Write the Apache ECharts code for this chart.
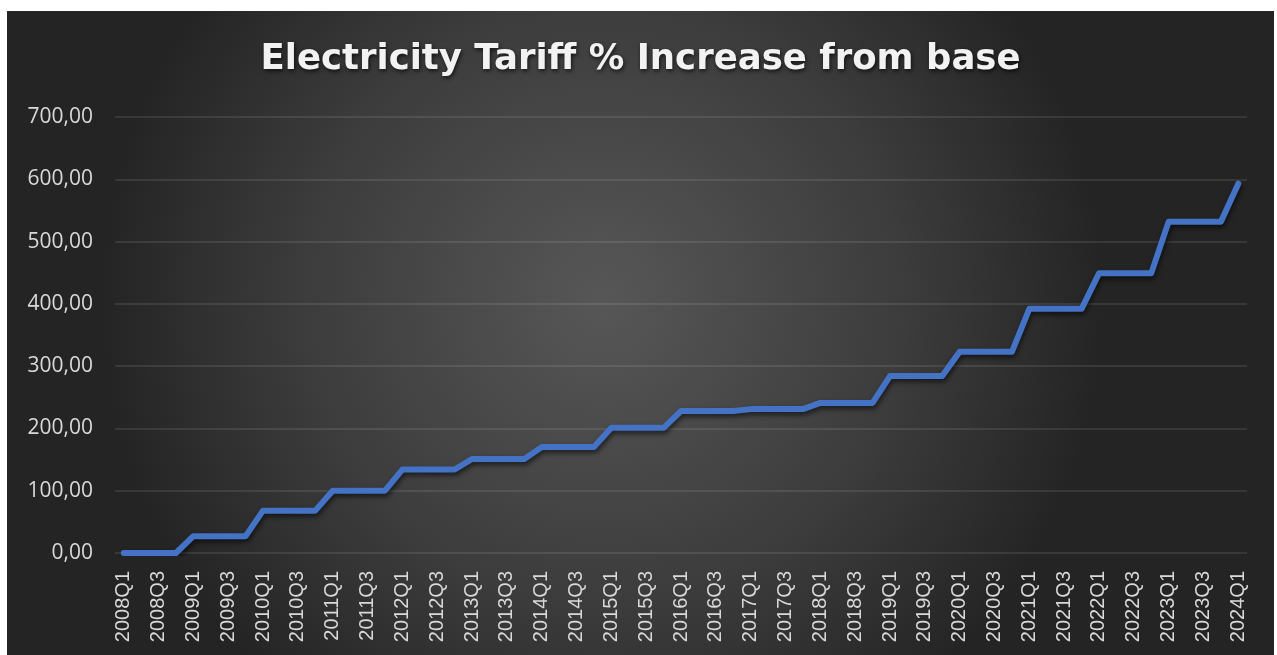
<!DOCTYPE html>
<html>
<head>
<meta charset="utf-8">
<script src="https://cdn.jsdelivr.net/npm/echarts@6/dist/echarts.min.js"></script>
<style>
  html, body { margin: 0; padding: 0; background: #ffffff; }
  #chart { position: absolute; left: 7px; top: 11px; width: 1267px; height: 644px; }
</style>
</head>
<body>
<div id="chart"></div>
<script>
// Quarterly labels, 2008Q1 .. 2024Q1
const years = [2008, 2009, 2010, 2011, 2012, 2013, 2014, 2015, 2016, 2017, 2018, 2019, 2020, 2021, 2022, 2023];
const quarters = ['Q1', 'Q2', 'Q3', 'Q4'];
const categories = [];
years.forEach(y => quarters.forEach(q => categories.push(y + q)));
categories.push('2024Q1');

// Cumulative tariff increase (%) relative to 2008Q1
const tariffIncrease = [
  0, 0, 0, 0,
  27, 27, 27, 27,
  68, 68, 68, 68,
  100, 100, 100, 100,
  134, 134, 134, 134,
  151, 151, 151, 151,
  170, 170, 170, 170,
  201, 201, 201, 201,
  228, 228, 228, 228,
  231, 231, 231, 231,
  241, 241, 241, 241,
  284, 284, 284, 284,
  323, 323, 323, 323,
  392, 392, 392, 392,
  449, 449, 449, 449,
  532, 532, 532, 532,
  593
];

const yTicks = [0, 100, 200, 300, 400, 500, 600, 700];

const chart = echarts.init(document.getElementById('chart'));
chart.setOption({
  backgroundColor: {
    type: 'radial', x: 0.47, y: 0.45, r: 0.78,
    colorStops: [
      { offset: 0, color: '#575757' },
      { offset: 0.6, color: '#3c3c3c' },
      { offset: 1, color: '#242424' }
    ]
  },
  title: {
    text: 'Electricity Tariff % Increase from base',
    left: 'center',
    top: 26,
    textStyle: {
      color: '#f2f2f2',
      fontFamily: 'DejaVu Sans',
      fontWeight: 'bold',
      fontSize: 35.5,
      textShadowColor: 'rgba(0,0,0,0.7)',
      textShadowBlur: 4,
      textShadowOffsetX: 1,
      textShadowOffsetY: 2
    }
  },
  grid: { left: 108, right: 27, top: 106, bottom: 102, containLabel: false },
  xAxis: {
    type: 'category',
    data: categories,
    boundaryGap: true,
    axisLine: { show: false },
    axisTick: { show: false },
    axisLabel: {
      interval: 1,
      rotate: 90,
      margin: 18,
      color: '#d9d9d9',
      fontFamily: 'Liberation Sans',
      fontSize: 20
    }
  },
  yAxis: {
    type: 'value',
    min: yTicks[0],
    max: yTicks[yTicks.length - 1],
    interval: 100,
    axisLine: { show: false },
    axisTick: { show: false },
    splitLine: { lineStyle: { color: 'rgba(255,255,255,0.13)', width: 1.5 } },
    axisLabel: {
      margin: 22,
      color: '#d9d9d9',
      fontFamily: 'Open Sans',
      fontSize: 21,
      formatter: v => v.toFixed(2).replace('.', ',')
    }
  },
  series: [{
    type: 'line',
    data: tariffIncrease,
    symbol: 'none',
    lineStyle: {
      color: '#4472C4',
      width: 6,
      cap: 'round',
      join: 'round',
      shadowColor: 'rgba(0,0,0,0.6)',
      shadowBlur: 5,
      shadowOffsetX: 1,
      shadowOffsetY: 3
    },
    animation: false
  }]
});
</script>
</body>
</html>
